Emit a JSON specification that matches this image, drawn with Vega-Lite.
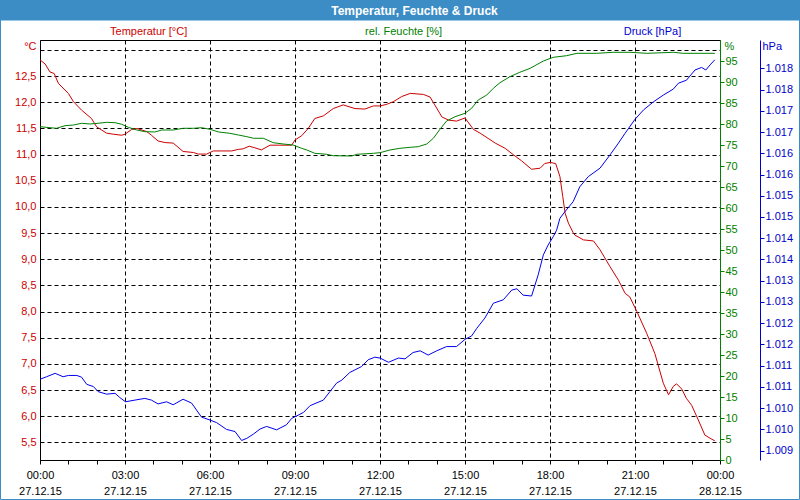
{
  "$schema": "https://vega.github.io/schema/vega-lite/v6.json",
  "width": 680,
  "height": 420,
  "autosize": {"type": "none"},
  "padding": {"left": 40, "top": 40, "right": 80, "bottom": 40},
  "background": "white",
  "config": {
    "view": {"stroke": "black", "strokeWidth": 1},
    "font": "Liberation Sans",
    "axis": {
      "labelFont": "Liberation Sans",
      "labelFontSize": 11,
      "titleFont": "Liberation Sans",
      "titleFontSize": 11,
      "titleFontWeight": "normal"
    }
  },
  "datasets": {
    "temp": [
      {"time": "2015-12-27T00:00", "temp": 12.81},
      {"time": "2015-12-27T00:11", "temp": 12.73},
      {"time": "2015-12-27T00:21", "temp": 12.58},
      {"time": "2015-12-27T00:30", "temp": 12.55},
      {"time": "2015-12-27T00:39", "temp": 12.36},
      {"time": "2015-12-27T01:00", "temp": 12.17},
      {"time": "2015-12-27T01:11", "temp": 12.01},
      {"time": "2015-12-27T01:28", "temp": 11.85},
      {"time": "2015-12-27T01:49", "temp": 11.69},
      {"time": "2015-12-27T02:00", "temp": 11.53},
      {"time": "2015-12-27T02:21", "temp": 11.41},
      {"time": "2015-12-27T02:35", "temp": 11.39},
      {"time": "2015-12-27T02:53", "temp": 11.37},
      {"time": "2015-12-27T03:00", "temp": 11.39},
      {"time": "2015-12-27T03:14", "temp": 11.48},
      {"time": "2015-12-27T03:25", "temp": 11.50},
      {"time": "2015-12-27T03:46", "temp": 11.44},
      {"time": "2015-12-27T03:56", "temp": 11.37},
      {"time": "2015-12-27T04:10", "temp": 11.26},
      {"time": "2015-12-27T04:25", "temp": 11.23},
      {"time": "2015-12-27T04:42", "temp": 11.22},
      {"time": "2015-12-27T05:03", "temp": 11.06},
      {"time": "2015-12-27T05:25", "temp": 11.04},
      {"time": "2015-12-27T05:35", "temp": 11.01},
      {"time": "2015-12-27T05:53", "temp": 11.01},
      {"time": "2015-12-27T06:07", "temp": 11.07},
      {"time": "2015-12-27T06:25", "temp": 11.07},
      {"time": "2015-12-27T06:46", "temp": 11.07},
      {"time": "2015-12-27T07:00", "temp": 11.10},
      {"time": "2015-12-27T07:10", "temp": 11.11},
      {"time": "2015-12-27T07:23", "temp": 11.16},
      {"time": "2015-12-27T07:35", "temp": 11.13},
      {"time": "2015-12-27T07:49", "temp": 11.09},
      {"time": "2015-12-27T08:07", "temp": 11.18},
      {"time": "2015-12-27T08:28", "temp": 11.18},
      {"time": "2015-12-27T08:53", "temp": 11.18},
      {"time": "2015-12-27T09:00", "temp": 11.28},
      {"time": "2015-12-27T09:14", "temp": 11.36},
      {"time": "2015-12-27T09:28", "temp": 11.50},
      {"time": "2015-12-27T09:42", "temp": 11.69},
      {"time": "2015-12-27T10:00", "temp": 11.74},
      {"time": "2015-12-27T10:21", "temp": 11.88},
      {"time": "2015-12-27T10:42", "temp": 11.95},
      {"time": "2015-12-27T11:07", "temp": 11.88},
      {"time": "2015-12-27T11:28", "temp": 11.87},
      {"time": "2015-12-27T11:46", "temp": 11.93},
      {"time": "2015-12-27T12:00", "temp": 11.93},
      {"time": "2015-12-27T12:14", "temp": 11.96},
      {"time": "2015-12-27T12:28", "temp": 12.01},
      {"time": "2015-12-27T12:46", "temp": 12.11},
      {"time": "2015-12-27T13:04", "temp": 12.17},
      {"time": "2015-12-27T13:32", "temp": 12.15},
      {"time": "2015-12-27T13:46", "temp": 12.10},
      {"time": "2015-12-27T13:56", "temp": 11.95},
      {"time": "2015-12-27T14:11", "temp": 11.72},
      {"time": "2015-12-27T14:25", "temp": 11.66},
      {"time": "2015-12-27T14:42", "temp": 11.64},
      {"time": "2015-12-27T15:00", "temp": 11.70},
      {"time": "2015-12-27T15:18", "temp": 11.48},
      {"time": "2015-12-27T15:32", "temp": 11.41},
      {"time": "2015-12-27T15:49", "temp": 11.31},
      {"time": "2015-12-27T16:04", "temp": 11.22},
      {"time": "2015-12-27T16:25", "temp": 11.12},
      {"time": "2015-12-27T16:42", "temp": 11.00},
      {"time": "2015-12-27T17:00", "temp": 10.88},
      {"time": "2015-12-27T17:21", "temp": 10.72},
      {"time": "2015-12-27T17:39", "temp": 10.74},
      {"time": "2015-12-27T17:49", "temp": 10.83},
      {"time": "2015-12-27T18:00", "temp": 10.85},
      {"time": "2015-12-27T18:12", "temp": 10.83},
      {"time": "2015-12-27T18:21", "temp": 10.58},
      {"time": "2015-12-27T18:27", "temp": 10.20},
      {"time": "2015-12-27T18:32", "temp": 9.88},
      {"time": "2015-12-27T18:39", "temp": 9.69},
      {"time": "2015-12-27T18:49", "temp": 9.51},
      {"time": "2015-12-27T18:53", "temp": 9.46},
      {"time": "2015-12-27T19:11", "temp": 9.37},
      {"time": "2015-12-27T19:32", "temp": 9.35},
      {"time": "2015-12-27T19:46", "temp": 9.18},
      {"time": "2015-12-27T20:07", "temp": 8.86},
      {"time": "2015-12-27T20:25", "temp": 8.60},
      {"time": "2015-12-27T20:39", "temp": 8.35},
      {"time": "2015-12-27T20:49", "temp": 8.28},
      {"time": "2015-12-27T21:04", "temp": 8.00},
      {"time": "2015-12-27T21:25", "temp": 7.58},
      {"time": "2015-12-27T21:42", "temp": 7.20},
      {"time": "2015-12-27T22:00", "temp": 6.63},
      {"time": "2015-12-27T22:11", "temp": 6.41},
      {"time": "2015-12-27T22:21", "temp": 6.57},
      {"time": "2015-12-27T22:28", "temp": 6.62},
      {"time": "2015-12-27T22:39", "temp": 6.52},
      {"time": "2015-12-27T22:49", "temp": 6.34},
      {"time": "2015-12-27T23:00", "temp": 6.21},
      {"time": "2015-12-27T23:14", "temp": 5.93},
      {"time": "2015-12-27T23:28", "temp": 5.64},
      {"time": "2015-12-27T23:39", "temp": 5.58},
      {"time": "2015-12-27T23:49", "temp": 5.53}
    ],
    "hum": [
      {"time": "2015-12-27T00:00", "rh": 79.36},
      {"time": "2015-12-27T00:21", "rh": 79.12},
      {"time": "2015-12-27T00:35", "rh": 78.98},
      {"time": "2015-12-27T00:53", "rh": 79.60},
      {"time": "2015-12-27T01:11", "rh": 79.76},
      {"time": "2015-12-27T01:28", "rh": 80.17},
      {"time": "2015-12-27T01:46", "rh": 80.00},
      {"time": "2015-12-27T02:03", "rh": 80.17},
      {"time": "2015-12-27T02:21", "rh": 80.40},
      {"time": "2015-12-27T02:39", "rh": 80.31},
      {"time": "2015-12-27T02:53", "rh": 79.93},
      {"time": "2015-12-27T03:07", "rh": 79.21},
      {"time": "2015-12-27T03:25", "rh": 78.57},
      {"time": "2015-12-27T03:42", "rh": 78.17},
      {"time": "2015-12-27T04:03", "rh": 78.10},
      {"time": "2015-12-27T04:18", "rh": 78.57},
      {"time": "2015-12-27T04:42", "rh": 78.57},
      {"time": "2015-12-27T05:03", "rh": 78.98},
      {"time": "2015-12-27T05:25", "rh": 78.98},
      {"time": "2015-12-27T05:42", "rh": 79.12},
      {"time": "2015-12-27T06:00", "rh": 78.74},
      {"time": "2015-12-27T06:18", "rh": 78.10},
      {"time": "2015-12-27T06:42", "rh": 77.79},
      {"time": "2015-12-27T07:00", "rh": 77.38},
      {"time": "2015-12-27T07:18", "rh": 76.98},
      {"time": "2015-12-27T07:32", "rh": 76.60},
      {"time": "2015-12-27T07:53", "rh": 76.60},
      {"time": "2015-12-27T08:14", "rh": 75.55},
      {"time": "2015-12-27T08:35", "rh": 75.24},
      {"time": "2015-12-27T08:56", "rh": 75.00},
      {"time": "2015-12-27T09:14", "rh": 74.21},
      {"time": "2015-12-27T09:25", "rh": 73.81},
      {"time": "2015-12-27T09:42", "rh": 73.02},
      {"time": "2015-12-27T10:07", "rh": 72.79},
      {"time": "2015-12-27T10:21", "rh": 72.45},
      {"time": "2015-12-27T11:00", "rh": 72.38},
      {"time": "2015-12-27T11:11", "rh": 72.79},
      {"time": "2015-12-27T11:46", "rh": 73.02},
      {"time": "2015-12-27T12:00", "rh": 73.17},
      {"time": "2015-12-27T12:21", "rh": 73.81},
      {"time": "2015-12-27T12:42", "rh": 74.21},
      {"time": "2015-12-27T13:04", "rh": 74.45},
      {"time": "2015-12-27T13:21", "rh": 74.60},
      {"time": "2015-12-27T13:39", "rh": 75.24},
      {"time": "2015-12-27T13:53", "rh": 76.60},
      {"time": "2015-12-27T14:07", "rh": 78.74},
      {"time": "2015-12-27T14:21", "rh": 80.71},
      {"time": "2015-12-27T14:39", "rh": 81.74},
      {"time": "2015-12-27T15:00", "rh": 82.55},
      {"time": "2015-12-27T15:14", "rh": 83.74},
      {"time": "2015-12-27T15:28", "rh": 85.71},
      {"time": "2015-12-27T15:46", "rh": 86.90},
      {"time": "2015-12-27T16:00", "rh": 88.50},
      {"time": "2015-12-27T16:14", "rh": 89.83},
      {"time": "2015-12-27T16:35", "rh": 91.26},
      {"time": "2015-12-27T16:56", "rh": 92.31},
      {"time": "2015-12-27T17:18", "rh": 93.26},
      {"time": "2015-12-27T17:46", "rh": 95.00},
      {"time": "2015-12-27T18:07", "rh": 95.88},
      {"time": "2015-12-27T18:35", "rh": 96.26},
      {"time": "2015-12-27T18:57", "rh": 96.83},
      {"time": "2015-12-27T19:39", "rh": 96.83},
      {"time": "2015-12-27T20:14", "rh": 97.07},
      {"time": "2015-12-27T20:49", "rh": 97.07},
      {"time": "2015-12-27T21:25", "rh": 96.83},
      {"time": "2015-12-27T22:21", "rh": 97.07},
      {"time": "2015-12-27T22:42", "rh": 96.83},
      {"time": "2015-12-27T23:49", "rh": 96.83}
    ],
    "press": [
      {"time": "2015-12-27T00:00", "p": 1010.68},
      {"time": "2015-12-27T00:14", "p": 1010.74},
      {"time": "2015-12-27T00:32", "p": 1010.82},
      {"time": "2015-12-27T00:49", "p": 1010.74},
      {"time": "2015-12-27T01:00", "p": 1010.77},
      {"time": "2015-12-27T01:18", "p": 1010.77},
      {"time": "2015-12-27T01:28", "p": 1010.73},
      {"time": "2015-12-27T01:39", "p": 1010.56},
      {"time": "2015-12-27T01:53", "p": 1010.51},
      {"time": "2015-12-27T02:03", "p": 1010.39},
      {"time": "2015-12-27T02:21", "p": 1010.33},
      {"time": "2015-12-27T02:39", "p": 1010.35},
      {"time": "2015-12-27T02:49", "p": 1010.25},
      {"time": "2015-12-27T03:01", "p": 1010.15},
      {"time": "2015-12-27T03:21", "p": 1010.19},
      {"time": "2015-12-27T03:42", "p": 1010.23},
      {"time": "2015-12-27T03:56", "p": 1010.19},
      {"time": "2015-12-27T04:10", "p": 1010.10},
      {"time": "2015-12-27T04:28", "p": 1010.15},
      {"time": "2015-12-27T04:42", "p": 1010.08},
      {"time": "2015-12-27T05:03", "p": 1010.21},
      {"time": "2015-12-27T05:21", "p": 1010.12},
      {"time": "2015-12-27T05:42", "p": 1009.79},
      {"time": "2015-12-27T06:00", "p": 1009.72},
      {"time": "2015-12-27T06:14", "p": 1009.66},
      {"time": "2015-12-27T06:35", "p": 1009.50},
      {"time": "2015-12-27T06:53", "p": 1009.45},
      {"time": "2015-12-27T07:07", "p": 1009.24},
      {"time": "2015-12-27T07:18", "p": 1009.29},
      {"time": "2015-12-27T07:32", "p": 1009.39},
      {"time": "2015-12-27T07:46", "p": 1009.51},
      {"time": "2015-12-27T08:00", "p": 1009.57},
      {"time": "2015-12-27T08:21", "p": 1009.49},
      {"time": "2015-12-27T08:42", "p": 1009.61},
      {"time": "2015-12-27T08:53", "p": 1009.76},
      {"time": "2015-12-27T09:04", "p": 1009.82},
      {"time": "2015-12-27T09:18", "p": 1009.90},
      {"time": "2015-12-27T09:32", "p": 1010.06},
      {"time": "2015-12-27T10:00", "p": 1010.19},
      {"time": "2015-12-27T10:14", "p": 1010.39},
      {"time": "2015-12-27T10:28", "p": 1010.59},
      {"time": "2015-12-27T10:39", "p": 1010.66},
      {"time": "2015-12-27T10:56", "p": 1010.84},
      {"time": "2015-12-27T11:21", "p": 1010.98},
      {"time": "2015-12-27T11:35", "p": 1011.14},
      {"time": "2015-12-27T11:49", "p": 1011.20},
      {"time": "2015-12-27T12:00", "p": 1011.18},
      {"time": "2015-12-27T12:18", "p": 1011.08},
      {"time": "2015-12-27T12:39", "p": 1011.18},
      {"time": "2015-12-27T12:53", "p": 1011.16},
      {"time": "2015-12-27T13:10", "p": 1011.31},
      {"time": "2015-12-27T13:25", "p": 1011.35},
      {"time": "2015-12-27T13:42", "p": 1011.25},
      {"time": "2015-12-27T14:00", "p": 1011.35},
      {"time": "2015-12-27T14:21", "p": 1011.45},
      {"time": "2015-12-27T14:42", "p": 1011.45},
      {"time": "2015-12-27T15:00", "p": 1011.62},
      {"time": "2015-12-27T15:14", "p": 1011.70},
      {"time": "2015-12-27T15:25", "p": 1011.88},
      {"time": "2015-12-27T15:42", "p": 1012.12},
      {"time": "2015-12-27T16:00", "p": 1012.47},
      {"time": "2015-12-27T16:21", "p": 1012.55},
      {"time": "2015-12-27T16:39", "p": 1012.78},
      {"time": "2015-12-27T16:50", "p": 1012.81},
      {"time": "2015-12-27T17:03", "p": 1012.66},
      {"time": "2015-12-27T17:21", "p": 1012.64},
      {"time": "2015-12-27T17:35", "p": 1013.14},
      {"time": "2015-12-27T17:46", "p": 1013.61},
      {"time": "2015-12-27T17:56", "p": 1013.84},
      {"time": "2015-12-27T18:07", "p": 1014.04},
      {"time": "2015-12-27T18:14", "p": 1014.19},
      {"time": "2015-12-27T18:21", "p": 1014.47},
      {"time": "2015-12-27T18:32", "p": 1014.63},
      {"time": "2015-12-27T18:49", "p": 1014.86},
      {"time": "2015-12-27T19:03", "p": 1015.21},
      {"time": "2015-12-27T19:21", "p": 1015.45},
      {"time": "2015-12-27T19:46", "p": 1015.65},
      {"time": "2015-12-27T20:07", "p": 1015.96},
      {"time": "2015-12-27T20:25", "p": 1016.24},
      {"time": "2015-12-27T20:39", "p": 1016.47},
      {"time": "2015-12-27T21:00", "p": 1016.80},
      {"time": "2015-12-27T21:18", "p": 1017.02},
      {"time": "2015-12-27T21:39", "p": 1017.21},
      {"time": "2015-12-27T22:00", "p": 1017.37},
      {"time": "2015-12-27T22:21", "p": 1017.51},
      {"time": "2015-12-27T22:32", "p": 1017.65},
      {"time": "2015-12-27T22:49", "p": 1017.72},
      {"time": "2015-12-27T23:07", "p": 1017.96},
      {"time": "2015-12-27T23:21", "p": 1018.02},
      {"time": "2015-12-27T23:30", "p": 1017.96},
      {"time": "2015-12-27T23:39", "p": 1018.08},
      {"time": "2015-12-27T23:49", "p": 1018.20}
    ]
  },
  "layer": [
    {
      "data": {"values": [{}]},
      "mark": {"type": "rect", "color": "#3c8dc6"},
      "encoding": {
        "x": {
          "datum": {"year": 2015, "month": 12, "date": 26, "hours": 22, "minutes": 35}, "type": "temporal",
          "scale": {"domain": [{"year": 2015, "month": 12, "date": 27}, {"year": 2015, "month": 12, "date": 28}]},
          "axis": {
            "orient": "bottom",
            "title": null,
            "values": [
              {"year": 2015, "month": 12, "date": 27, "hours": 3},
              {"year": 2015, "month": 12, "date": 27, "hours": 6},
              {"year": 2015, "month": 12, "date": 27, "hours": 9},
              {"year": 2015, "month": 12, "date": 27, "hours": 12},
              {"year": 2015, "month": 12, "date": 27, "hours": 15},
              {"year": 2015, "month": 12, "date": 27, "hours": 18},
              {"year": 2015, "month": 12, "date": 27, "hours": 21}
            ],
            "labels": false,
            "ticks": false,
            "domain": false,
            "grid": true,
            "gridColor": "black",
            "gridDash": [4, 3],
            "gridOpacity": 1
          }
        },
        "x2": {"datum": {"year": 2015, "month": 12, "date": 28, "hours": 2, "minutes": 50}},
        "y": {"datum": 13.97, "type": "quantitative", "scale": {"domain": [5.164, 13.19], "nice": false, "zero": false}, "axis": null},
        "y2": {"datum": 13.565}
      }
    },
    {
      "data": {"values": [{}]},
      "mark": {"type": "rect", "fillOpacity": 0, "stroke": "#3c8dc6", "strokeWidth": 1},
      "encoding": {
        "x": {
          "datum": {"year": 2015, "month": 12, "date": 26, "hours": 22, "minutes": 36, "seconds": 22}, "type": "temporal",
          "scale": {"domain": [{"year": 2015, "month": 12, "date": 27}, {"year": 2015, "month": 12, "date": 28}]},
          "axis": {
            "orient": "bottom",
            "title": null,
            "values": [
              {"year": 2015, "month": 12, "date": 27, "hours": 0},
              {"year": 2015, "month": 12, "date": 27, "hours": 3},
              {"year": 2015, "month": 12, "date": 27, "hours": 6},
              {"year": 2015, "month": 12, "date": 27, "hours": 9},
              {"year": 2015, "month": 12, "date": 27, "hours": 12},
              {"year": 2015, "month": 12, "date": 27, "hours": 15},
              {"year": 2015, "month": 12, "date": 27, "hours": 18},
              {"year": 2015, "month": 12, "date": 27, "hours": 21},
              {"year": 2015, "month": 12, "date": 28, "hours": 0}
            ],
            "format": "%d.%m.%y",
            "labelColor": "black",
            "labelPadding": 25,
            "labelFlush": false,
            "labelOverlap": false,
            "ticks": false,
            "domain": false,
            "grid": false
          }
        },
        "x2": {"datum": {"year": 2015, "month": 12, "date": 28, "hours": 2, "minutes": 48, "seconds": 22}},
        "y": {"datum": 13.97, "type": "quantitative", "scale": {"domain": [5.164, 13.19], "nice": false, "zero": false}, "axis": null},
        "y2": {"datum": 4.409}
      }
    },
    {
      "data": {"name": "temp"},
      "mark": {"type": "line", "color": "#cc0000", "strokeWidth": 1},
      "encoding": {
        "x": {
          "field": "time", "type": "temporal",
          "scale": {"domain": [{"year": 2015, "month": 12, "date": 27}, {"year": 2015, "month": 12, "date": 28}]},
          "axis": {
            "orient": "bottom",
            "title": null,
            "values": [
              {"year": 2015, "month": 12, "date": 27, "hours": 0},
              {"year": 2015, "month": 12, "date": 27, "hours": 1},
              {"year": 2015, "month": 12, "date": 27, "hours": 2},
              {"year": 2015, "month": 12, "date": 27, "hours": 3},
              {"year": 2015, "month": 12, "date": 27, "hours": 4},
              {"year": 2015, "month": 12, "date": 27, "hours": 5},
              {"year": 2015, "month": 12, "date": 27, "hours": 6},
              {"year": 2015, "month": 12, "date": 27, "hours": 7},
              {"year": 2015, "month": 12, "date": 27, "hours": 8},
              {"year": 2015, "month": 12, "date": 27, "hours": 9},
              {"year": 2015, "month": 12, "date": 27, "hours": 10},
              {"year": 2015, "month": 12, "date": 27, "hours": 11},
              {"year": 2015, "month": 12, "date": 27, "hours": 12},
              {"year": 2015, "month": 12, "date": 27, "hours": 13},
              {"year": 2015, "month": 12, "date": 27, "hours": 14},
              {"year": 2015, "month": 12, "date": 27, "hours": 15},
              {"year": 2015, "month": 12, "date": 27, "hours": 16},
              {"year": 2015, "month": 12, "date": 27, "hours": 17},
              {"year": 2015, "month": 12, "date": 27, "hours": 18},
              {"year": 2015, "month": 12, "date": 27, "hours": 19},
              {"year": 2015, "month": 12, "date": 27, "hours": 20},
              {"year": 2015, "month": 12, "date": 27, "hours": 21},
              {"year": 2015, "month": 12, "date": 27, "hours": 22},
              {"year": 2015, "month": 12, "date": 27, "hours": 23},
              {"year": 2015, "month": 12, "date": 28, "hours": 0}
            ],
            "labelExpr": "hours(datum.value) % 3 == 0 ? timeFormat(datum.value, '%H:%M') : ''",
            "labelColor": "black",
            "labelPadding": 5,
            "labelFlush": false,
            "labelOverlap": false,
            "tickSize": 4,
            "tickColor": "black",
            "domainColor": "black",
            "grid": false
          }
        },
        "y": {
          "field": "temp", "type": "quantitative",
          "scale": {"domain": [5.164, 13.19], "nice": false, "zero": false},
          "axis": {
            "orient": "left",
            "values": [5.5, 6, 6.5, 7, 7.5, 8, 8.5, 9, 9.5, 10, 10.5, 11, 11.5, 12, 12.5, 13],
            "labelExpr": "datum.value > 12.9 ? '' : replace(format(datum.value, '.1f'), '.', ',')",
            "labelColor": "#cc0000",
            "labelPadding": 4,
            "tickSize": 0,
            "domainColor": "black",
            "grid": true,
            "gridColor": "black",
            "gridDash": [4, 3],
            "gridOpacity": 1,
            "title": "°C",
            "titleAngle": 0,
            "titleAlign": "right",
            "titleBaseline": "middle",
            "titleX": -4,
            "titleY": 6,
            "titleColor": "#cc0000"
          }
        }
      }
    },
    {
      "data": {"name": "hum"},
      "mark": {"type": "line", "color": "#008000", "strokeWidth": 1},
      "encoding": {
        "x": {
          "field": "time", "type": "temporal",
          "scale": {"domain": [{"year": 2015, "month": 12, "date": 27}, {"year": 2015, "month": 12, "date": 28}]},
          "axis": {
            "orient": "top",
            "title": null,
            "values": [
              {"year": 2015, "month": 12, "date": 27, "hours": 3, "minutes": 49},
              {"year": 2015, "month": 12, "date": 27, "hours": 12, "minutes": 49},
              {"year": 2015, "month": 12, "date": 27, "hours": 21, "minutes": 36}
            ],
            "labelExpr": "hours(datum.value) < 8 ? 'Temperatur [°C]' : hours(datum.value) < 17 ? 'rel. Feuchte [%]' : 'Druck [hPa]'",
            "labelColor": {"condition": [{"test": "hours(datum.value) < 8", "value": "#cc0000"}, {"test": "hours(datum.value) < 17", "value": "#008000"}], "value": "#0000cc"},
            "labelPadding": 4,
            "labelFlush": false,
            "labelOverlap": false,
            "domain": false,
            "ticks": false,
            "tickSize": 0,
            "grid": false
          }
        },
        "y": {
          "field": "rh", "type": "quantitative",
          "scale": {"domain": [0, 100], "nice": false, "zero": false},
          "axis": {
            "orient": "right",
            "values": [0, 5, 10, 15, 20, 25, 30, 35, 40, 45, 50, 55, 60, 65, 70, 75, 80, 85, 90, 95],
            "format": "d",
            "labelColor": "#008000",
            "labelPadding": 1,
            "tickSize": 4,
            "tickColor": "#008000",
            "domainColor": "#008000",
            "grid": false,
            "title": "%",
            "titleAngle": 0,
            "titleAlign": "left",
            "titleBaseline": "middle",
            "titleX": 4,
            "titleY": 6,
            "titleColor": "#008000"
          }
        }
      }
    },
    {
      "data": {"name": "press"},
      "mark": {"type": "line", "color": "#0000ee", "strokeWidth": 1},
      "encoding": {
        "x": {
          "field": "time", "type": "temporal",
          "scale": {"domain": [{"year": 2015, "month": 12, "date": 27}, {"year": 2015, "month": 12, "date": 28}]},
          "axis": {
            "orient": "top",
            "title": null,
            "values": [
              {"year": 2015, "month": 12, "date": 27, "hours": 13, "minutes": 12}
            ],
            "labelExpr": "'Temperatur, Feuchte & Druck'",
            "labelColor": "white",
            "labelFontWeight": "bold",
            "labelFontSize": 12,
            "labelPadding": 23,
            "labelFlush": false,
            "labelOverlap": false,
            "domain": false,
            "ticks": false,
            "tickSize": 0,
            "grid": false,
            "zindex": 2
          }
        },
        "y": {
          "field": "p", "type": "quantitative",
          "scale": {"domain": [1008.78, 1018.666], "nice": false, "zero": false},
          "axis": {
            "orient": "right",
            "offset": 40,
            "values": [1009, 1009.5, 1010, 1010.5, 1011, 1011.5, 1012, 1012.5, 1013, 1013.5, 1014, 1014.5, 1015, 1015.5, 1016, 1016.5, 1017, 1017.5, 1018],
            "labelExpr": "'1.0' + format(round(datum.value) - 1000, '02d')",
            "labelColor": "#0000cc",
            "labelPadding": 1,
            "tickSize": 4,
            "tickColor": "#0000cc",
            "domainColor": "#0000cc",
            "grid": false,
            "title": "hPa",
            "titleAngle": 0,
            "titleAlign": "left",
            "titleBaseline": "middle",
            "titleX": 2,
            "titleY": 6,
            "titleColor": "#0000cc"
          }
        }
      }
    }
  ],
  "resolve": {
    "scale": {"y": "independent"},
    "axis": {"x": "independent", "y": "independent"}
  }
}
